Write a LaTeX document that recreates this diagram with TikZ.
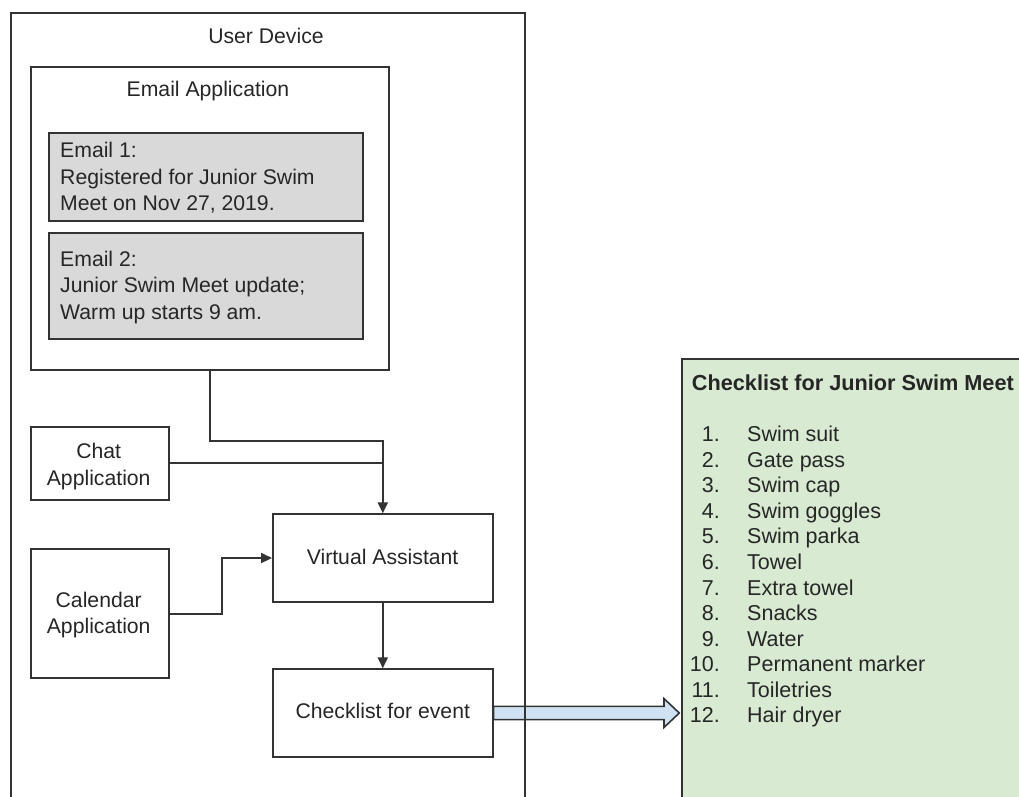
\documentclass[tikz,border=0pt]{standalone}
\usepackage{fontspec}
\setmainfont{Liberation Sans}
\usetikzlibrary{arrows.meta,calc,backgrounds}
\definecolor{linec}{HTML}{333333}
\definecolor{textc}{HTML}{262626}
\definecolor{emailfill}{HTML}{D9D9D9}
\definecolor{greenfill}{HTML}{D9EAD3}
\definecolor{bluefill}{HTML}{CFE2F3}
\begin{document}
\begin{tikzpicture}[x=1pt,y=-1pt,
  box/.style={draw=linec, line width=2pt, rectangle, inner sep=0pt, anchor=north west},
  txt/.style={text=textc, inner sep=0pt, font=\fontsize{21.2}{26.3}\selectfont},
  listtxt/.style={text=textc, inner sep=0pt, font=\fontsize{21.5}{25.6}\selectfont},
  conn/.style={draw=linec, line width=2pt},
  arr/.style={conn, -{Triangle[length=11pt,width=10pt]}},
  blockarrow/.style={draw=linec, line width=1.6pt, fill=bluefill, line join=miter}]
\useasboundingbox (0,0) rectangle (1019,796);
% boxes
\node[box, minimum width=514pt, minimum height=785pt] (outer) at (9.5,11.7) {};
\node[box, minimum width=357.6pt, minimum height=303.8pt] (email) at (30.4,65.5) {};
\node[box, fill=emailfill, minimum width=313.7pt, minimum height=88.3pt] (e1) at (48.3,131.7) {};
\node[box, fill=emailfill, minimum width=313.7pt, minimum height=106pt] (e2) at (48.3,232.3) {};
\node[box, minimum width=138.3pt, minimum height=73.3pt] (chat) at (29.7,425.7) {};
\node[box, minimum width=138.3pt, minimum height=129pt] (cal) at (29.7,548.3) {};
\node[box, minimum width=219.6pt, minimum height=87.4pt] (va) at (272,513.3) {};
\node[box, minimum width=219.6pt, minimum height=87.4pt] (ck) at (272,668.3) {};
\node[box, fill=greenfill, minimum width=400pt, minimum height=500pt] (green) at (681,358) {};
% texts (multi-line nodes: base = baseline of last line)
\node[txt, anchor=base] (tud) at (266,43) {User Device};
\node[txt, anchor=base] (tea) at (208,96.5) {Email Application};
\node[txt, anchor=base west, align=left] (te1) at (60,210.5) {Email 1:\\Registered for Junior Swim\\Meet on Nov 27, 2019.};
\node[txt, anchor=base west, align=left] (te2) at (60,319) {Email 2:\\Junior Swim Meet update;\\Warm up starts 9 am.};
\node[txt, anchor=base, align=center] (tchat) at (98.7,485) {Chat\\Application};
\node[txt, anchor=base, align=center] (tcal) at (98.7,633.3) {Calendar\\Application};
\node[txt, anchor=base] (tva) at (382.6,564) {Virtual Assistant};
\node[txt, anchor=base] (tck) at (382.8,718) {Checklist for event};
\node[listtxt, anchor=base west, font=\fontsize{21.7}{26}\selectfont\bfseries] (tgt) at (691.7,390) {Checklist for Junior Swim Meet};
\foreach \i/\item in {1/Swim suit,2/Gate pass,3/Swim cap,4/Swim goggles,5/Swim parka,6/Towel,7/Extra towel,8/Snacks,9/Water,10/Permanent marker,11/Toiletries,12/Hair dryer}{
  \node[listtxt, anchor=base east] (n\i) at (720,{441.7+25.57*(\i-1)}) {\i.};
  \node[listtxt, anchor=base west] (it\i) at (747,{441.7+25.57*(\i-1)}) {\item};
}
% connectors
\coordinate (y1) at (0,440.7);
\coordinate (j1) at (va.north |- y1);
\draw[arr] (email.south) |- (j1) -- (va.north);
\draw[conn] (chat.east) -- (chat.east -| va.north);
\draw[arr] (cal.east) -- ++(51.6,0) |- (va.west);
\draw[arr] (va.south) -- (ck.north);
\coordinate (tip) at ($(green.west |- ck.east)+(-1.7,0)$);
\begin{pgfonlayer}{background}
\draw[blockarrow] ($(ck.east)+(0,-6.6)$) -- ($(tip)+(-15.3,-6.6)$) -- ($(tip)+(-15.3,-14.4)$) -- (tip)
  -- ($(tip)+(-15.3,14.4)$) -- ($(tip)+(-15.3,6.6)$) -- ($(ck.east)+(0,6.6)$) -- cycle;
\end{pgfonlayer}
\end{tikzpicture}
\end{document}
